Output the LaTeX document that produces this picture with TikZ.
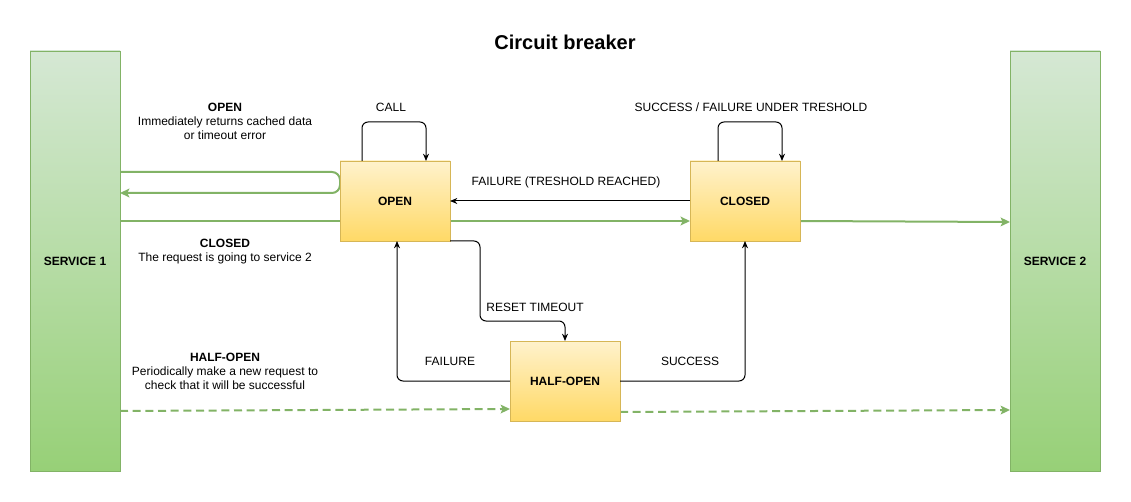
\documentclass[tikz,border=0pt]{standalone}
\usepackage{fontspec}
\setmainfont{Liberation Sans}
\usetikzlibrary{arrows.meta,backgrounds}

\definecolor{svcfill}{HTML}{D5E8D4}
\definecolor{svcfilldark}{HTML}{97D077}
\definecolor{svcline}{HTML}{82B366}
\definecolor{statefill}{HTML}{FFF2CC}
\definecolor{statefilldark}{HTML}{FFD966}
\definecolor{stateline}{HTML}{D6B656}

\tikzset{
	service/.style={draw=svcline, top color=svcfill, bottom color=svcfilldark, minimum width=67.5pt, minimum height=315pt, inner sep=0pt, outer sep=0pt, font=\fontsize{9}{10.5}\selectfont\bfseries},
	state/.style={draw=stateline, top color=statefill, bottom color=statefilldark, minimum width=82.5pt, minimum height=60pt, inner sep=0pt, outer sep=0pt, font=\fontsize{9}{10.5}\selectfont\bfseries},
	lbl/.style={align=center, inner sep=1pt},
	trans/.style={draw=black, line width=0.75pt, rounded corners=4.5pt, -{Stealth[length=5.5pt,width=4.5pt]}},
	request/.style={draw=svcline, line width=1.5pt, rounded corners=6pt, -{Stealth[length=7pt,width=6.5pt,inset=1.5pt]}},
	retry/.style={request, dash pattern=on 6pt off 3.5pt}
}

\begin{document}
\begin{tikzpicture}[x=0.75pt, y=-0.75pt, font=\fontsize{9}{10.5}\selectfont]
		\useasboundingbox (0,0) rectangle (1131,502);
		\node[font=\fontsize{15}{18}\selectfont\bfseries] (title) at (565,42) {Circuit breaker};

		\node[service] (service1) at (75,261) {SERVICE 1};
		\node[service] (service2) at (1055,261) {SERVICE 2};

		\node[state] (open) at (395,201) {OPEN};
		\node[state] (closed) at (745,201) {CLOSED};
		\node[state] (halfopen) at (565,381) {HALF-OPEN};

		% request paths, behind the states
		\begin{pgfonlayer}{background}
		\draw[request] (service1.east |- 0,172) -- (open.west |- 0,172) -- (open.west |- 0,193) -- (service1.east |- 0,193);
		\draw[request] (service1.east |- 0,221) -- (closed.west |- 0,221);
		\draw[request] (closed.east |- 0,221) -- (service2.west |- 0,222);
		\draw[retry] (service1.east |- 0,411) -- (halfopen.west |- 0,409);
		\draw[retry] (halfopen.east |- 0,412) -- (service2.west |- 0,410);
		\end{pgfonlayer}

		% transitions
		\draw[trans] (open.north -| 362,0) -- (362,122) -- (426,122) -- (open.north -| 426,0);
		\node[lbl] (calllbl) at (391,107) {CALL};
		\draw[trans] (closed.north -| 718,0) -- (718,122) -- (782,122) -- (closed.north -| 782,0);
		\node[lbl] (staylbl) at (751,107) {SUCCESS / FAILURE UNDER TRESHOLD};
		\draw[trans] (closed.west) -- (open.east);
		\node[lbl] (triplbl) at (566,182) {FAILURE (TRESHOLD REACHED)};
		\draw[trans] (open.south east) -| (480,321) -| (halfopen.north);
		\node[lbl] (resetlbl) at (535,307) {RESET TIMEOUT};
		\draw[trans] (halfopen.west) -| (open.south -| 397,0);
		\node[lbl] (faillbl) at (450,361) {FAILURE};
		\draw[trans] (halfopen.east) -| (closed.south);
		\node[lbl] (successlbl) at (690,361) {SUCCESS};

		% notes
		\node[lbl] (opennote) at (225,121) {\textbf{OPEN}\\Immediately returns cached data\\or timeout error};
		\node[lbl] (closednote) at (225,252) {\textbf{CLOSED}\\The request is going to service 2};
		\node[lbl] (halfnote) at (225,371) {\textbf{HALF-OPEN}\\Periodically make a new request to\\check that it will be successful};
	\end{tikzpicture}
\end{document}
